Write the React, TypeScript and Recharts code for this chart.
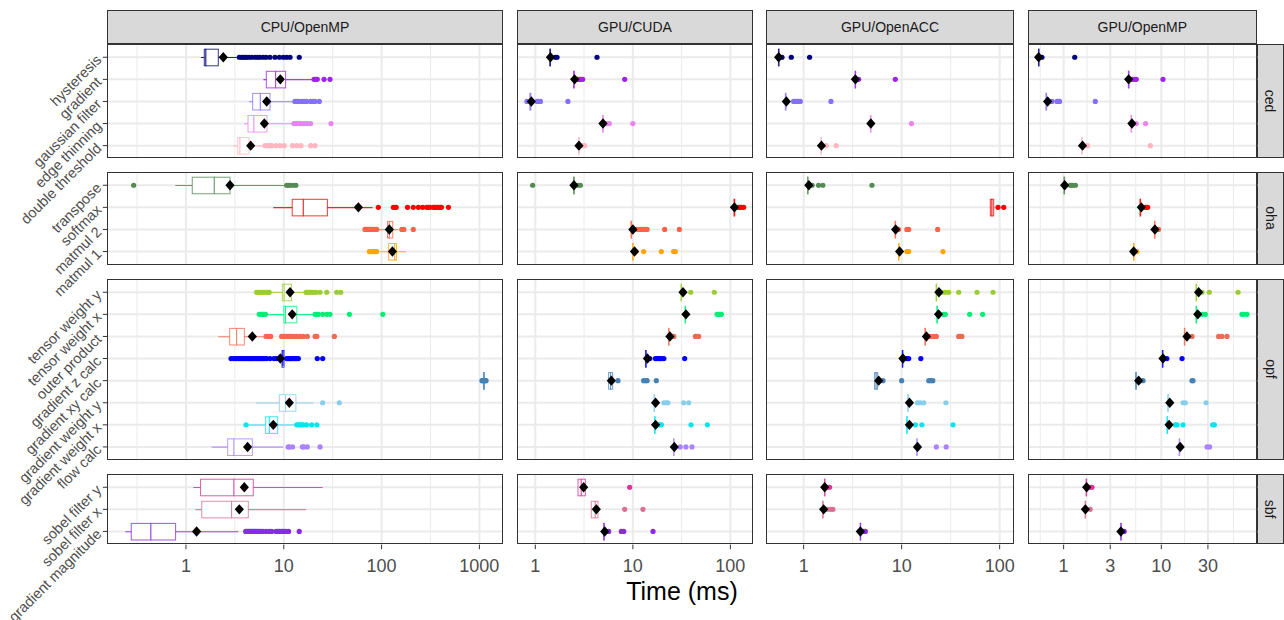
import React from 'react';
import { ComposedChart, XAxis, YAxis, Bar, Scatter, ReferenceLine } from 'recharts';

// categories per benchmark (top to bottom)
const cedCats = ['hysteresis', 'gradient', 'gaussian filter', 'edge thinning', 'double threshold'];
const ohaCats = ['transpose', 'softmax', 'matmul 2', 'matmul 1'];
const opfCats = [
  'tensor weight y', 'tensor weight x', 'outer product', 'gradient z calc',
  'gradient xy calc', 'gradient weight y', 'gradient weight x', 'flow calc',
];
const sbfCats = ['sobel filter y', 'sobel filter x', 'gradient magnitude'];

const platforms = ['CPU/OpenMP', 'GPU/CUDA', 'GPU/OpenACC', 'GPU/OpenMP'];
const benchmarks = ['ced', 'oha', 'opf', 'sbf'];

// box stats: [lower whisker, q1, median, q3, upper whisker, mean] in ms
const cpuCed = [
  [1.42, 1.54, 1.6, 2.14, 3.3, 2.41],
  [6.18, 6.63, 8.27, 10.45, 19.4, 9.22],
  [4.41, 4.81, 5.76, 7.23, 12.5, 6.69],
  [3.92, 4.31, 4.96, 6.74, 12.3, 6.33],
  [3.05, 3.38, 3.57, 4.41, 6.09, 4.59],
];
const cpuCedOut = [
  [3.51, 3.7, 3.86, 4.0, 4.17, 4.4, 4.7, 5.08, 5.4, 5.71, 6.18, 6.6, 7.23, 8.13, 9.01, 9.9, 10.7, 11.6, 14.4],
  [20.4, 21.2, 22.0, 25.8, 29.7],
  [13.0, 13.6, 14.1, 15.2, 16.2, 17.1, 18.8, 20.0, 20.9, 23.1],
  [12.7, 13.2, 13.6, 14.6, 15.3, 16.1, 17.4, 18.8, 30.4],
  [6.43, 6.95, 7.2, 7.52, 8.33, 9.15, 10.1, 12.3, 13.6, 15.0, 18.8, 20.9],
];
const cpuOha = [
  [0.778, 1.16, 1.95, 2.82, 10.5, 2.82],
  [7.82, 12.2, 15.85, 27.9, 81.1, 57.9],
  [92.7, 115, 120, 130, 148, 120],
  [96.5, 118, 136, 142, 178, 129],
];
const cpuOhaOut = [
  [0.292, 10.7, 11.2, 11.6, 12.5, 13.3],
  [92.7, 132, 137, 141, 184, 211, 238, 263, 290, 300, 313, 339, 350, 366, 380, 396, 410, 482],
  [67.7, 70, 72, 74, 76.2, 79, 82.4, 86, 89.2, 161, 169, 211],
  [75, 77, 79.2, 81, 83.6, 86, 89.2],
];
const cpuOpf = [
  [7.4, 9.67, 10.1, 12.0, 16.5, 11.6],
  [6.8, 10.05, 10.4, 13.6, 20.1, 12.2],
  [2.14, 2.8, 3.3, 3.95, 6.33, 4.77],
  [9.15, 9.59, 9.82, 10.06, 10.4, 9.22],
  [1085, 1100, 1110, 1125, 1140, null],
  [5.2, 9.01, 10.4, 13.3, 20.1, 11.4],
  [4.25, 6.53, 7.12, 8.66, 13.0, 7.82],
  [1.83, 2.67, 3.1, 4.77, 9.9, 4.27],
];
const cpuOpfOut = [
  [5.28, 5.5, 5.71, 5.95, 6.18, 6.4, 6.69, 6.95, 7.1, 16.9, 17.4, 17.9, 18.5, 19.3, 20.2, 21.4, 23.5, 27.5, 34.8, 38.2],
  [5.62, 5.8, 5.95, 6.1, 6.28, 6.5, 20.9, 21.8, 22.6, 25.0, 27.5, 29.7, 46.9, 103],
  [6.59, 6.95, 7.35, 9.52, 9.9, 10.3, 10.7, 11.1, 11.5, 12.0, 12.8, 13.6, 14.6, 15.8, 17.4, 20.9, 21.8, 32.9],
  [2.89, 3.05, 3.2, 3.3, 3.45, 3.57, 3.7, 3.86, 4.0, 4.17, 4.35, 4.51, 4.7, 4.88, 5.08, 5.28, 5.5, 5.71, 5.95,
    6.18, 6.43, 6.69, 7.23, 7.94, 8.45, 10.7, 11.0, 11.4, 11.7, 12.0, 12.5, 13.0, 13.5, 14.1, 22.0, 25.0],
  [1060, 1080, 1120, 1150, 1170],
  [25.0, 37.0],
  [4.11, 13.6, 14.1, 14.6, 15.2, 15.8, 17.1, 19.3, 21.8],
  [11.1, 11.4, 12.3, 15.5, 16.1, 17.4, 23.5],
];
const cpuSbf = [
  [1.19, 1.41, 3.1, 4.88, 25.0, 3.95],
  [1.25, 1.45, 2.93, 4.34, 16.9, 3.51],
  [0.24, 0.276, 0.4385, 0.784, 3.43, 1.285],
];
const cpuSbfOut = [
  [],
  [],
  [4.08, 4.2, 4.34, 4.46, 4.59, 4.74, 4.88, 5.04, 5.2, 5.4, 5.62, 5.85, 6.09, 6.59, 7.12, 7.52, 8.33, 8.7, 9.0, 9.4,
    9.74, 10.1, 10.6, 11.2, 14.4],
];

const cudaCed = [
  [1.4, 1.41, 1.42, 1.43, 1.45, 1.43],
  [2.45, 2.47, 2.49, 2.51, 2.53, 2.53],
  [0.87, 0.88, 0.889, 0.9, 0.91, 0.91],
  [4.88, 4.9, 4.94, 4.98, 5.0, 4.94],
  [2.76, 2.78, 2.8, 2.82, 2.84, 2.8],
];
const cudaCedOut = [
  [1.6, 1.67, 4.29],
  [2.67, 2.75, 2.85, 2.95, 3.06, 8.25],
  [0.821, 1.04, 1.08, 1.13, 2.16],
  [5.43, 5.74, 10.0],
  [3.06, 3.21],
];
const cudaOha = [
  [2.45, 2.47, 2.49, 2.51, 2.53, 2.49],
  [108, 109, 110, 111, 112, 110],
  [9.55, 9.6, 9.65, 9.7, 9.75, 10.0],
  [9.9, 9.95, 10.0, 10.05, 10.1, 10.4],
];
const cudaOhaOut = [
  [0.939, 2.74, 2.9],
  [121, 126, 130, 137],
  [11.0, 11.9, 12.5, 13.2, 14.0, 21.2, 30.0],
  [10.8, 12.9, 19.6, 26.2, 27.3],
];
const cudaOpf = [
  [31.0, 31.2, 31.4, 31.6, 31.8, 32.7],
  [34.2, 34.4, 34.5, 34.7, 34.9, 35.0],
  [23.1, 23.2, 23.3, 23.5, 23.7, 24.0],
  [13.4, 13.5, 13.6, 13.7, 13.8, 14.1],
  [5.6, 5.65, 5.92, 6.21, 6.25, 6.02],
  [16.4, 16.5, 16.6, 16.7, 16.8, 17.1],
  [16.6, 16.7, 16.8, 16.9, 17.0, 17.1],
  [26.0, 26.1, 26.2, 26.3, 26.4, 26.6],
];
const cudaOpfOut = [
  [39.2, 68.5],
  [73.0, 75.8, 78, 80.9],
  [25.2, 26.3, 43.8, 45.5, 47.3],
  [14.9, 17.0, 17.7, 18.4, 19.0, 19.6, 20.8, 34.0],
  [7.04, 12.9, 13.4, 14.0, 17.4],
  [20.8, 22.0, 22.9, 33.2, 37.4],
  [17.7, 18.7, 19.6, 39.5, 58.1],
  [30.6, 35.0, 40.4],
];
const cudaSbf = [
  [2.72, 2.74, 2.96, 3.26, 3.28, 3.13],
  [3.73, 3.75, 4.12, 4.39, 4.41, 4.22],
  [5.0, 5.03, 5.06, 5.09, 5.12, 5.15],
];
const cudaSbfOut = [
  [9.28],
  [8.25, 12.7],
  [5.65, 7.62, 8.07, 16.1],
];

const accCed = [
  [0.55, 0.553, 0.556, 0.559, 0.562, 0.556],
  [3.33, 3.35, 3.37, 3.39, 3.41, 3.37],
  [0.645, 0.65, 0.655, 0.66, 0.665, 0.666],
  [4.78, 4.8, 4.83, 4.86, 4.88, 4.85],
  [1.49, 1.5, 1.51, 1.52, 1.53, 1.52],
];
const accCedOut = [
  [0.601, 0.748, 1.15],
  [3.64, 8.62],
  [0.79, 0.81, 0.84, 0.87, 0.89, 0.925, 1.9],
  [12.6],
  [1.7, 2.15],
];
const accOha = [
  [1.09, 1.095, 1.1, 1.105, 1.11, 1.13],
  [79.5, 80.3, 83.5, 86.9, 88, null],
  [8.55, 8.58, 8.62, 8.66, 8.7, 8.69],
  [9.25, 9.28, 9.31, 9.34, 9.37, 9.53],
];
const accOhaOut = [
  [1.22, 1.42, 1.57, 4.98],
  [96.2, 110],
  [9.3, 11.3, 11.8, 23.3],
  [11.3, 11.8, 26.4],
];
const accOpf = [
  [22.4, 22.5, 22.6, 22.7, 22.8, 24.0],
  [22.8, 22.9, 23.0, 23.1, 23.2, 23.8],
  [17.2, 17.3, 17.4, 17.5, 17.6, 17.9],
  [10.1, 10.15, 10.2, 10.25, 10.3, 10.3],
  [5.28, 5.3, 5.5, 5.69, 5.71, 5.83],
  [11.5, 11.55, 11.6, 11.65, 11.7, 12.0],
  [11.2, 11.25, 11.3, 11.35, 11.4, 12.0],
  [14.2, 14.25, 14.3, 14.35, 14.4, 14.5],
];
const accOpfOut = [
  [25.8, 27.9, 30.2, 38.2, 58.7, 85.5],
  [26.8, 27.9, 49.4, 67.1],
  [19.6, 21.2, 22.6, 38.2, 39.7, 41.2],
  [11.3, 11.8, 15.7],
  [6.45, 10.0, 18.9, 19.9, 20.8],
  [14.5, 15.5, 16.8, 28.3],
  [13.8, 16.1, 33.4],
  [22.6, 28.5],
];
const accSbf = [
  [1.62, 1.63, 1.64, 1.65, 1.66, 1.64],
  [1.55, 1.56, 1.57, 1.58, 1.59, 1.6],
  [3.76, 3.78, 3.79, 3.8, 3.82, 3.79],
];
const accSbfOut = [
  [1.73, 1.84],
  [1.73, 1.87, 1.99],
  [4.09, 4.26],
];

const ompCed = [
  [0.55, 0.553, 0.555, 0.558, 0.56, 0.555],
  [4.58, 4.6, 4.63, 4.66, 4.68, 4.63],
  [0.655, 0.66, 0.665, 0.67, 0.675, 0.686],
  [4.88, 4.9, 4.93, 4.96, 4.98, 5.0],
  [1.52, 1.53, 1.54, 1.55, 1.56, 1.56],
];
const ompCedOut = [
  [0.6, 1.3],
  [5.0, 5.29, 5.54, 10.4],
  [0.76, 0.855, 0.88, 0.91, 2.11],
  [5.54, 6.91],
  [1.76, 7.71],
];
const ompOha = [
  [1.0, 1.008, 1.016, 1.024, 1.03, 1.025],
  [6.02, 6.06, 6.1, 6.14, 6.18, 6.24],
  [8.45, 8.5, 8.54, 8.58, 8.62, 8.6],
  [5.16, 5.19, 5.21, 5.23, 5.26, 5.21],
];
const ompOhaOut = [
  [1.17, 1.21, 1.25, 1.32],
  [6.85, 7.0, 7.25],
  [9.37],
  [5.63],
];
const ompOpf = [
  [22.6, 22.7, 22.8, 22.9, 23.0, 24.1],
  [22.6, 22.7, 22.8, 22.9, 23.0, 23.6],
  [17.1, 17.2, 17.3, 17.4, 17.5, 18.3],
  [10.2, 10.25, 10.3, 10.35, 10.4, 10.4],
  [5.45, 5.48, 5.5, 5.52, 5.55, 5.86],
  [11.6, 11.65, 11.7, 11.75, 11.8, 12.2],
  [11.4, 11.45, 11.5, 11.55, 11.6, 12.0],
  [15.2, 15.25, 15.3, 15.35, 15.4, 15.6],
];
const ompOpfOut = [
  [26.1, 31.0, 61.0],
  [26.1, 28.2, 66.9, 70, 75.4],
  [20.6, 38.6, 41.7, 47.0],
  [11.4, 16.3],
  [6.49, 20.6, 21.1],
  [16.7, 17.6, 28.7],
  [13.9, 14.5, 16.7, 33.5, 34.9],
  [29.4, 31.2],
];
const ompSbf = [
  [1.69, 1.7, 1.71, 1.72, 1.73, 1.72],
  [1.65, 1.66, 1.67, 1.68, 1.69, 1.67],
  [3.83, 3.85, 3.86, 3.87, 3.89, 3.86],
];
const ompSbfOut = [
  [1.87, 1.95],
  [1.87],
  [4.17],
];

// x axis per platform column
const xDomains = [[0.157, 1730], [0.649, 173], [0.413, 142], [0.432, 96]];
const xTicks = [[1, 10, 100, 1000], [1, 10, 100], [1, 10, 100], [1, 3, 10, 30]];
const xMinor = [[0.316, 3.16, 31.6, 316], [0.316, 3.16, 31.6], [0.316, 3.16, 31.6], [0.577, 1.732, 5.477, 17.32, 54.77]];

const CATS = [cedCats, ohaCats, opfCats, sbfCats];
const STATS = [
  [cpuCed, cpuOha, cpuOpf, cpuSbf],
  [cudaCed, cudaOha, cudaOpf, cudaSbf],
  [accCed, accOha, accOpf, accSbf],
  [ompCed, ompOha, ompOpf, ompSbf],
];
const OUTS = [
  [cpuCedOut, cpuOhaOut, cpuOpfOut, cpuSbfOut],
  [cudaCedOut, cudaOhaOut, cudaOpfOut, cudaSbfOut],
  [accCedOut, accOhaOut, accOpfOut, accSbfOut],
  [ompCedOut, ompOhaOut, ompOpfOut, ompSbfOut],
];

const COLORS: Record<string, string> = {
  'hysteresis': '#000080',
  'gradient': '#A020F0',
  'gaussian filter': '#8470FF',
  'edge thinning': '#EE82EE',
  'double threshold': '#FFB6C1',
  'transpose': '#548B54',
  'softmax': '#FF0000',
  'matmul 2': '#FF6347',
  'matmul 1': '#FFA500',
  'tensor weight y': '#9ACD32',
  'tensor weight x': '#00EE76',
  'outer product': '#EE6A50',
  'gradient z calc': '#0000FF',
  'gradient xy calc': '#4682B4',
  'gradient weight y': '#87CEEB',
  'gradient weight x': '#00E5EE',
  'flow calc': '#AB82FF',
  'sobel filter y': '#D8359A',
  'sobel filter x': '#DB7093',
  'gradient magnitude': '#8A2BE2',
};

// page layout (px)
const COL_X = [[107.3, 502.7], [516.7, 753.3], [765.7, 1014.3], [1027.7, 1257]];
const ROW_Y = [[43.5, 158.4], [172.1, 264.9], [278.6, 459.8], [473.5, 544.2]];
const AXIS_W = 107.3;
const AXIS_H = 40;
const FONT = '"Liberation Sans", Arial, Helvetica, sans-serif';
const GRID = '#EBEBEB';
const BORDER = '#333333';

function YTick(props: any) {
  const { x, y, payload } = props;
  return (
    <text
      x={x} y={y} dy="0.35em" textAnchor="end"
      transform={`rotate(-45 ${x} ${y})`}
      fontSize={14.5} fill="#4D4D4D" fontFamily={FONT}
    >
      {payload.value}
    </text>
  );
}

function Whisker(props: any) {
  const { x, y, width, height, payload } = props;
  const c = COLORS[payload.cat];
  return <line x1={x} x2={x + width} y1={y + height / 2} y2={y + height / 2} stroke={c} strokeOpacity={0.85} strokeWidth={1.1} />;
}

function BoxHalf(props: any) {
  const { x, y, width, height, payload } = props;
  const c = COLORS[payload.cat];
  return <rect x={x} y={y} width={Math.max(width, 0.3)} height={height} fill="#fff" stroke={c} strokeOpacity={0.8} strokeWidth={1} />;
}

function Dot(props: any) {
  const { cx, cy, payload } = props;
  if (cx == null || isNaN(cx)) return <g />;
  return <circle cx={cx} cy={cy} r={2.6} fill={COLORS[payload.cat]} />;
}

function Diamond(props: any) {
  const { cx, cy, payload } = props;
  if (payload.mean == null || cx == null || isNaN(cx)) return <g />;
  return <polygon points={`${cx},${cy - 5.2} ${cx + 4.6},${cy} ${cx},${cy + 5.2} ${cx - 4.6},${cy}`} fill="#000" />;
}

function Panel({ col, row }: { col: number; row: number }) {
  const cats = CATS[row];
  const stats = STATS[col][row];
  const outs = OUTS[col][row];
  const rows = cats.map((cat, i) => ({
    cat, lo: stats[i][0], q1: stats[i][1], med: stats[i][2], q3: stats[i][3], hi: stats[i][4], mean: stats[i][5],
  }));
  const points = cats.flatMap((cat, i) => outs[i].map((v) => ({ cat, v })));

  const [x0, x1] = COL_X[col];
  const [y0, y1] = ROW_Y[row];
  const w = x1 - x0;
  const h = y1 - y0;
  const unit = h / (cats.length + 0.2);
  const pad = unit * 0.1;
  const left = col === 0 ? AXIS_W : 0;
  const bottom = row === 3 ? AXIS_H : 0;
  const boxH = unit * 0.75;

  return (
    <div style={{ position: 'absolute', left: x0 - left, top: y0 }}>
      <ComposedChart
        width={w + left} height={h + bottom} data={rows} layout="vertical"
        margin={{ top: 0, right: 0, bottom: 0, left: 0 }}
      >
        <XAxis
          type="number" scale="log" domain={xDomains[col]} allowDataOverflow
          ticks={xTicks[col]} hide={row !== 3} height={AXIS_H}
          axisLine={false} tickLine={{ stroke: BORDER }} tickSize={4.5} tickMargin={10.5}
          tick={{ fontSize: 18, fill: '#4D4D4D', fontFamily: FONT }}
          tickFormatter={(v: number) => String(v)} interval={0}
        />
        <YAxis
          yAxisId={0} type="category" dataKey="cat" allowDuplicatedCategory={false}
          padding={{ top: pad, bottom: pad }} hide={col !== 0} width={AXIS_W}
          axisLine={false} tickLine={{ stroke: BORDER }} tickSize={4.5} tickMargin={4} interval={0}
          tick={<YTick />}
        />
        {['w', 'b1', 'b2'].map((id) => (
          <YAxis key={id} yAxisId={id} type="category" dataKey="cat" hide padding={{ top: pad, bottom: pad }} />
        ))}

        {xMinor[col].map((v) => (
          <ReferenceLine key={'m' + v} x={v} stroke={GRID} strokeWidth={1} zIndex={-50} />
        ))}
        {xTicks[col].map((v) => (
          <ReferenceLine key={'M' + v} x={v} stroke={GRID} strokeWidth={2} zIndex={-50} />
        ))}
        {cats.map((c) => (
          <ReferenceLine key={'h' + c} y={c} stroke={GRID} strokeWidth={2} zIndex={-50} />
        ))}

        {/* keeps category order on the main axis */}
        <Scatter data={rows} dataKey="med" shape={() => <g />} isAnimationActive={false} />

        <Bar yAxisId="w" dataKey={(d: any) => [d.lo, d.hi]} barSize={boxH} shape={<Whisker />} isAnimationActive={false} />
        <Bar yAxisId="b1" dataKey={(d: any) => [d.q1, d.med]} barSize={boxH} shape={<BoxHalf />} isAnimationActive={false} />
        <Bar yAxisId="b2" dataKey={(d: any) => [d.med, d.q3]} barSize={boxH} shape={<BoxHalf />} isAnimationActive={false} />

        <Scatter data={points} dataKey="v" shape={<Dot />} isAnimationActive={false} />
        <Scatter data={rows} dataKey="mean" shape={<Diamond />} isAnimationActive={false} />
      </ComposedChart>
      <div
        style={{
          position: 'absolute', left, top: 0, width: w, height: h,
          border: `1px solid ${BORDER}`, boxSizing: 'border-box', pointerEvents: 'none',
        }}
      />
    </div>
  );
}

export default function App() {
  return (
    <div style={{ position: 'relative', width: 1284, height: 620, fontFamily: FONT, background: '#fff', overflow: 'hidden' }}>
      <style>{'body{margin:0} .recharts-surface{overflow:visible}'}</style>

      {platforms.map((p, c) => (
        <div
          key={p}
          style={{
            position: 'absolute', left: COL_X[c][0], top: 10, width: COL_X[c][1] - COL_X[c][0], height: 34,
            background: '#D9D9D9', border: `1px solid ${BORDER}`, boxSizing: 'border-box',
            display: 'flex', alignItems: 'center', justifyContent: 'center', fontSize: 14, color: '#1A1A1A',
          }}
        >
          {p}
        </div>
      ))}

      {benchmarks.map((b, r) => (
        <div
          key={b}
          style={{
            position: 'absolute', left: 1257, top: ROW_Y[r][0], width: 27, height: ROW_Y[r][1] - ROW_Y[r][0],
            background: '#D9D9D9', border: `1px solid ${BORDER}`, boxSizing: 'border-box',
            display: 'flex', alignItems: 'center', justifyContent: 'center', fontSize: 14, color: '#1A1A1A',
          }}
        >
          <span style={{ transform: 'rotate(90deg)', whiteSpace: 'nowrap' }}>{b}</span>
        </div>
      ))}

      {benchmarks.map((b, r) => platforms.map((p, c) => <Panel key={b + p} col={c} row={r} />))}

      <div
        style={{
          position: 'absolute', left: 482, width: 400, top: 578.8, textAlign: 'center',
          fontSize: 25, lineHeight: '25px', color: '#000',
        }}
      >
        Time (ms)
      </div>
    </div>
  );
}
